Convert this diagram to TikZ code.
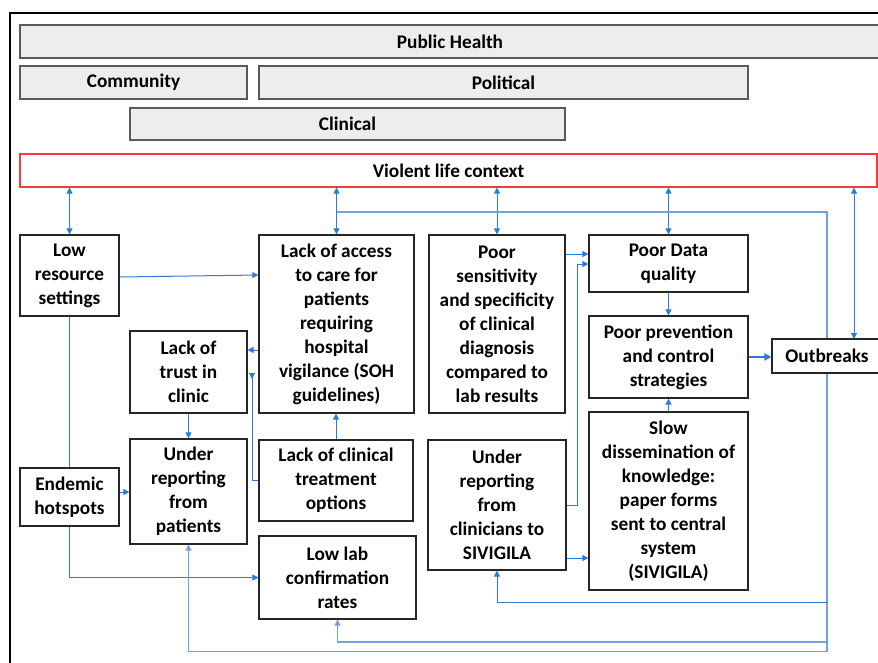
\documentclass[tikz,border=0pt]{standalone}
\usepackage{fontspec}
\setmainfont{Carlito}
\usetikzlibrary{arrows.meta}
\definecolor{lnblue}{HTML}{2E7BD6}
\definecolor{lnlight}{HTML}{6FA3DE}
\definecolor{boxgray}{HTML}{EDEDED}
\definecolor{bordgray}{HTML}{5A5A5A}
\definecolor{vred}{HTML}{F03C3C}
\begin{document}
\begin{tikzpicture}[x=1pt,y=-1pt,
  txt/.style={font=\fontsize{19.3}{24}\selectfont\bfseries, align=center, inner sep=0pt, text=black},
  hdr/.style={txt, draw=bordgray, fill=boxgray, line width=1.4pt},
  vbox/.style={txt, draw=vred, fill=white, line width=1.1pt},
  fbox/.style={txt, draw=black!85, fill=white, line width=1.2pt},
  conn/.style={draw=lnblue, line width=1pt, -{Triangle[length=6pt,width=6pt]}},
  biconn/.style={draw=lnblue, line width=1pt, {Triangle[length=6pt,width=6pt]}-{Triangle[length=6pt,width=6pt]}},
  plainconn/.style={draw=lnblue, line width=1pt},
  fbconn/.style={draw=lnlight, line width=1.6pt},
  fbarrow/.style={draw=lnlight, line width=1.6pt, -{Triangle[length=6pt,width=6pt]}, shorten >=0pt},
  thickconn/.style={draw=lnblue, line width=2.2pt, -{Triangle[length=7pt,width=7pt]}},
  revconn/.style={draw=lnblue, line width=1pt, -{Triangle[reversed,length=6pt,width=6pt]}}
]
\useasboundingbox (0,0) rectangle (878,662);
\fill[white] (0,0) rectangle (878,662);
\clip (0,0) rectangle (878,662);

% outer frame
\draw[line width=2.6pt, black] (10,700) -- (10,13) -- (900,13);

% header boxes
\node[hdr, minimum width=860pt, minimum height=33pt] (ph) at (450,41.5) {Public Health};
\node[hdr, minimum width=227pt, minimum height=33pt] (comm) at (133.5,82.5) {Community};
\node[hdr, minimum width=489pt, minimum height=33pt] (pol) at (503.5,82.5) {Political};
\node[hdr, minimum width=435pt, minimum height=32pt] (clin) at (347.5,124) {Clinical};
\node[vbox, minimum width=857pt, minimum height=33pt] (viol) at (448.5,170.5) {Violent life context};

% main boxes
\node[fbox, minimum width=99pt, minimum height=81pt] (lowres) at (69.5,275.5) {Low\\resource\\settings};
\node[fbox, minimum width=155pt, minimum height=178pt] (access) at (336.5,324) {Lack of access\\to care for\\patients\\requiring\\hospital\\vigilance (SOH\\guidelines)};
\node[fbox, minimum width=136pt, minimum height=178pt] (sens) at (497,324) {Poor\\sensitivity\\and specificity\\of clinical\\diagnosis\\compared to\\lab results};
\node[fbox, minimum width=159pt, minimum height=57pt] (data) at (668.5,263.5) {Poor Data\\quality};
\node[fbox, minimum width=159pt, minimum height=82pt] (prev) at (668.5,357) {Poor prevention\\and control\\strategies};
\node[fbox, minimum width=110pt, minimum height=34pt] (outb) at (827,356) {Outbreaks};
\node[fbox, minimum width=159pt, minimum height=178pt] (slow) at (668.5,501) {Slow\\dissemination of\\knowledge:\\paper forms\\sent to central\\system\\(SIVIGILA)};
\node[fbox, minimum width=138pt, minimum height=130pt] (clinrep) at (497,505) {Under\\reporting\\from\\clinicians to\\SIVIGILA};
\node[fbox, minimum width=117pt, minimum height=82pt] (trust) at (188.5,372) {Lack of\\trust in\\clinic};
\node[fbox, minimum width=117pt, minimum height=105pt] (patrep) at (188.5,491.5) {Under\\reporting\\from\\patients};
\node[fbox, minimum width=99pt, minimum height=58pt] (endem) at (69.5,497) {Endemic\\hotspots};
\node[fbox, minimum width=154pt, minimum height=81pt] (treat) at (336,480.5) {Lack of clinical\\treatment\\options};
\node[fbox, minimum width=157pt, minimum height=83pt] (lab) at (337.5,577.5) {Low lab\\confirmation\\rates};

% helper coordinates
\coordinate (obx) at (854,339);
\coordinate (fb) at (337,212);
\coordinate (trx) at (252,373);
\coordinate (crx) at (577,264);

% connectors to violent life context
\draw[biconn] (lowres.north |- viol.south) -- (lowres.north);
\draw[biconn] (access.north |- viol.south) -- (access.north);
\draw[biconn] (sens.north |- viol.south) -- (sens.north);
\draw[biconn] (data.north |- viol.south) -- (data.north);
\draw[biconn] (obx |- viol.south) -- (obx);

% feedback from outbreaks to top
\draw[fbconn] (outb.north) |- (fb);

% left side
\draw[conn] (lowres.east |- 0,277) -- (access.west |- 0,275);
\draw[conn] (access.west |- 0,350) -- (trust.east |- 0,350);
\draw[revconn] (treat.west) -| (trx);
\draw[conn] (treat.north) -- (treat.north |- access.south);
\draw[conn] (trust.south) -- (trust.south |- patrep.north);
\draw[plainconn] (lowres.south) -- (endem.north);
\draw[conn] (endem.east |- 0,492) -- (patrep.west |- 0,492);
\draw[conn] (endem.south) |- (lab.west);

% right side
\draw[conn] (sens.east |- 0,254) -- (data.west |- 0,254);
\draw[conn] (clinrep.east) -| (crx) -- (data.west |- crx);
\draw[conn] (clinrep.east |- 0,558) -- (slow.west |- 0,558);
\draw[conn] (data.south) -- (data.south |- prev.north);
\draw[conn] (slow.north) -- (slow.north |- prev.south);
\draw[thickconn] (prev.east) -- (outb.west |- prev.east);

% feedback from outbreaks to bottom
\draw[fbconn] (outb.south) -- (827,651.5);
\draw[conn] (827,602) -| (clinrep.south);
\draw[fbarrow] (827,642) -| (lab.south);
\draw[fbarrow] (827,651.5) -| (patrep.south);
\end{tikzpicture}
\end{document}
